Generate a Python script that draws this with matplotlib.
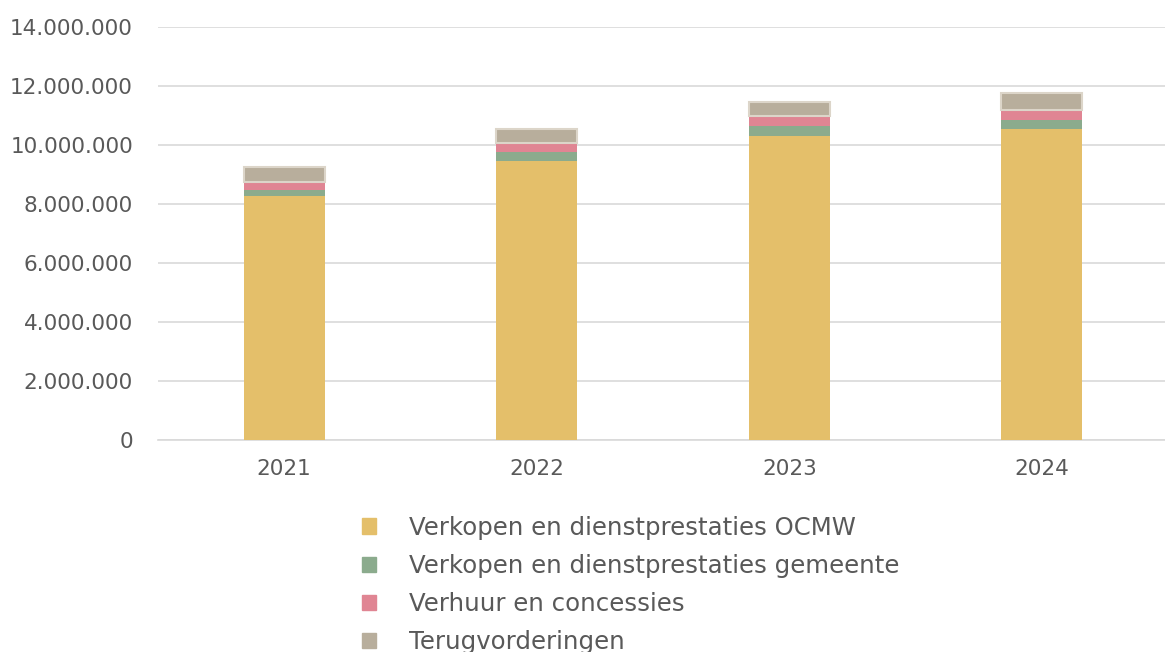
import numpy as np
import matplotlib.pyplot as plt
from matplotlib.ticker import FuncFormatter
from matplotlib.patches import Patch

plt.rcParams['font.family'] = ['DejaVu Sans']

years = ['2021', '2022', '2023', '2024']
ocmw = [8270000, 9460000, 10310000, 10540000]
gemeente = [200000, 300000, 330000, 310000]
verhuur = [280000, 310000, 340000, 340000]
terug = [500000, 470000, 480000, 570000]

labels = ['Verkopen en dienstprestaties OCMW',
          'Verkopen en dienstprestaties gemeente',
          'Verhuur en concessies',
          'Terugvorderingen']
colors = ['#E4BF6A', '#8BAB8D', '#E08593', '#B8AE9C']

fig = plt.figure(figsize=(11.65, 6.52), dpi=100)
ax = fig.add_axes([158/1165, 1-440/652, 1010/1165, 413/652])

x = np.arange(len(years))
w = 0.32
bottom = np.zeros(len(years))
for i, vals in enumerate([ocmw, gemeente, verhuur, terug]):
    if i == 3:
        ax.bar(x, vals, w, bottom=bottom, color=colors[i], edgecolor='#DCD5C9',
               linewidth=1.5, zorder=3)
    else:
        ax.bar(x, vals, w, bottom=bottom, color=colors[i], linewidth=0, zorder=3)
    bottom += np.array(vals)

ax.set_xlim(-0.5, 3.5)
ax.set_ylim(0, 14000000)
ax.set_yticks(np.arange(0, 14000001, 2000000))
ax.yaxis.set_major_formatter(FuncFormatter(lambda v, p: f'{int(v):,}'.replace(',', '.')))
ax.set_xticks(x)
ax.set_xticklabels(years)
ax.grid(axis='y', color='#D9D9D9', linewidth=1.2, zorder=0)
for s in ['top', 'right', 'left']:
    ax.spines[s].set_visible(False)
ax.spines['bottom'].set_color('#D9D9D9')
ax.spines['bottom'].set_linewidth(1.2)
ax.tick_params(axis='both', length=0, labelsize=15.5, labelcolor='#595959')
ax.tick_params(axis='y', pad=18)
ax.tick_params(axis='x', pad=14)

handles = [Patch(facecolor=c, edgecolor=c) for c in colors]
fig.legend(handles, labels, loc='upper left', bbox_to_anchor=(352/1165, 1-506/652),
           frameon=False, fontsize=17.6, labelcolor='#595959',
           handlelength=0.6, handleheight=0.6, handletextpad=1.35,
           labelspacing=0.58, borderaxespad=0)

fig.savefig('out.png', dpi=100)
